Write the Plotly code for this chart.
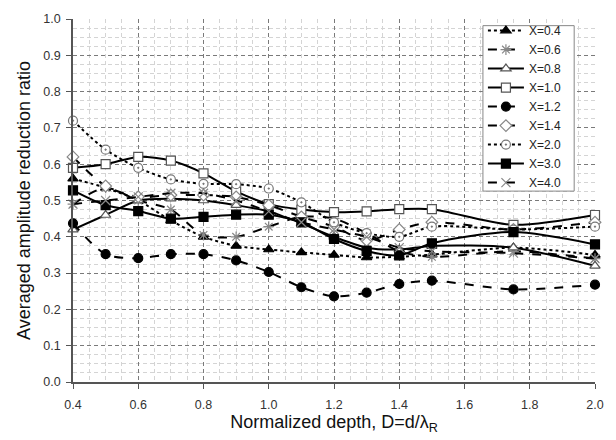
import plotly.graph_objects as go

# Normalized depth D = d / lambda_R
depth = [0.4, 0.5, 0.6, 0.7, 0.8, 0.9, 1.0, 1.1, 1.2, 1.3, 1.4, 1.5, 1.75, 2.0]

# Averaged amplitude reduction ratio for each normalized distance X
ratio_x04 = [0.56, 0.535, 0.50, 0.445, 0.40, 0.375, 0.365, 0.357, 0.35, 0.343, 0.345, 0.351, 0.37, 0.35]
ratio_x06 = [0.49, 0.535, 0.50, 0.475, 0.405, 0.40, 0.428, 0.455, 0.45, 0.41, 0.36, 0.345, 0.36, 0.34]
ratio_x08 = [0.42, 0.46, 0.50, 0.505, 0.50, 0.487, 0.47, 0.437, 0.40, 0.37, 0.365, 0.375, 0.37, 0.32]
ratio_x10 = [0.59, 0.60, 0.62, 0.61, 0.575, 0.525, 0.49, 0.475, 0.468, 0.47, 0.476, 0.476, 0.433, 0.46]
ratio_x12 = [0.437, 0.352, 0.341, 0.352, 0.352, 0.335, 0.303, 0.261, 0.236, 0.246, 0.27, 0.279, 0.255, 0.268]
ratio_x14 = [0.62, 0.54, 0.51, 0.515, 0.515, 0.51, 0.487, 0.455, 0.428, 0.39, 0.42, 0.44, 0.42, 0.44]
ratio_x20 = [0.72, 0.64, 0.59, 0.558, 0.546, 0.545, 0.533, 0.495, 0.44, 0.41, 0.40, 0.428, 0.42, 0.428]
ratio_x30 = [0.528, 0.487, 0.471, 0.45, 0.455, 0.461, 0.461, 0.44, 0.394, 0.361, 0.349, 0.382, 0.413, 0.379]
ratio_x40 = [0.49, 0.50, 0.51, 0.52, 0.52, 0.50, 0.47, 0.44, 0.42, 0.40, 0.37, 0.36, 0.355, 0.34]

series_names = ["X=0.4", "X=0.6", "X=0.8", "X=1.0", "X=1.2", "X=1.4", "X=2.0", "X=3.0", "X=4.0"]
series_values = [ratio_x04, ratio_x06, ratio_x08, ratio_x10, ratio_x12,
                 ratio_x14, ratio_x20, ratio_x30, ratio_x40]

# line dash, marker symbol, marker fill, marker outline
styles = [
    ("dot", "triangle-up", "black", "black"),
    ("dash", "asterisk-open", "#888888", "#888888"),
    ("solid", "triangle-up", "white", "#555555"),
    ("solid", "square", "white", "#555555"),
    ("dash", "circle", "black", "black"),
    ("dash", "diamond", "white", "#888888"),
    ("dot", "circle-dot", "white", "#777777"),
    ("solid", "square", "black", "black"),
    ("dash", "x-thin-open", "#888888", "#888888"),
]

fig = go.Figure()
for name, vals, (dash, sym, fill, outline) in zip(series_names, series_values, styles):
    fig.add_trace(go.Scatter(
        x=depth, y=vals, name=name, mode="lines+markers",
        line=dict(color="black", width=2, dash=dash, shape="spline", smoothing=0.8),
        marker=dict(symbol=sym, size=9, color=fill,
                    line=dict(color=outline, width=1.2)),
        cliponaxis=False,
    ))

font_family = "Arial, Liberation Sans, sans-serif"

# white framed panel behind the legend entries
fig.add_shape(
    type="rect", xref="paper", yref="paper",
    x0=0.7853, x1=0.9601, y0=0.5259, y1=0.9817,
    fillcolor="white", line=dict(color="#888888", width=1), layer="above",
)

fig.update_layout(
    width=616, height=440,
    margin=dict(l=73, r=17, t=15, b=58),
    paper_bgcolor="white", plot_bgcolor="white",
    font=dict(family=font_family, size=12, color="#222222"),
    showlegend=True,
    legend=dict(
        x=0.7853, y=1.008, xanchor="left", yanchor="top",
        bgcolor="rgba(0,0,0,0)", borderwidth=0,
        font=dict(size=12, color="#222222"),
        itemwidth=36,
    ),
    xaxis=dict(
        range=[0.4, 2.0], dtick=0.2, tick0=0.4, tickformat=".1f",
        showgrid=True, gridcolor="#7a7a7a", griddash="4px,3px", gridwidth=1,
        minor=dict(dtick=0.05, showgrid=True, gridcolor="#d4d4d4", gridwidth=1),
        showline=True, linecolor="#555555", linewidth=1.5,
        ticks="outside", ticklen=5, tickcolor="#555555",
        ticklabelstandoff=5,
        zeroline=False,
        tickfont=dict(size=12.5, color="#333333"),
        title=dict(text="Normalized depth, D=d/λ<sub>R</sub>",
                   font=dict(size=18, color="#111111"), standoff=4),
    ),
    yaxis=dict(
        range=[0.0, 1.0], dtick=0.1, tickformat=".1f",
        showgrid=True, gridcolor="#7a7a7a", griddash="4px,3px", gridwidth=1,
        minor=dict(dtick=0.025, showgrid=True, gridcolor="#d4d4d4", gridwidth=1),
        showline=True, linecolor="#555555", linewidth=1.5,
        ticks="outside", ticklen=5, tickcolor="#555555",
        ticklabelstandoff=3,
        zeroline=False,
        tickfont=dict(size=12.5, color="#333333"),
        title=dict(text="Averaged amplitude reduction ratio",
                   font=dict(size=18, color="#111111"), standoff=8),
    ),
)

fig.write_html("out.html")
